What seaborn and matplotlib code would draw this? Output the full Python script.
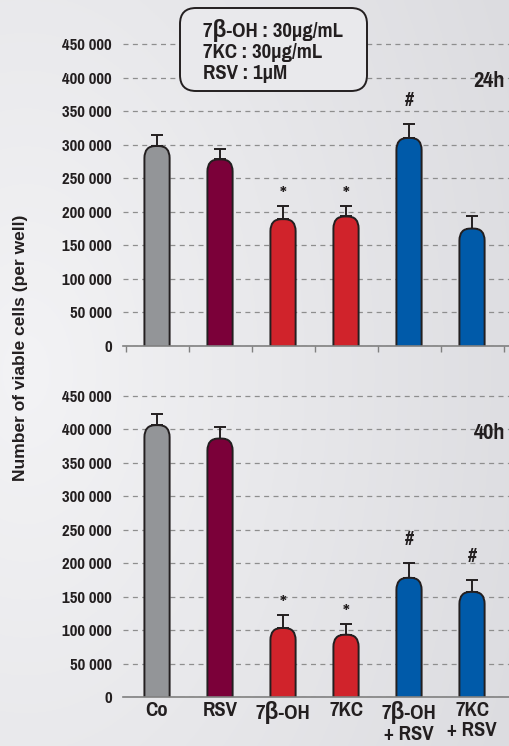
import numpy as np
import pandas as pd
import matplotlib
matplotlib.use("Agg")
import matplotlib.pyplot as plt
from matplotlib import font_manager
from matplotlib.patches import FancyBboxPatch
import seaborn as sns

# ---- data -------------------------------------------------------------
categories = ["Co", "RSV", "7β-OH", "7KC", "7β-OH\n+ RSV", "7KC\n+ RSV"]
mean_24h = [298000, 278000, 189000, 193000, 310000, 175000]
err_24h = [16000, 16000, 19000, 15000, 21000, 18000]
mean_40h = [406000, 386000, 103000, 93000, 178000, 157000]
err_40h = [16000, 16500, 19000, 15500, 22000, 18000]
marks_24h = ["", "", "*", "*", "#", ""]
marks_40h = ["", "", "*", "*", "#", "#"]
bar_colors = ["#939598", "#7b0039", "#d0232b", "#d0232b", "#005aa9", "#005aa9"]
y_ticks = list(range(0, 450001, 50000))
y_tick_labels = ["0" if v == 0 else f"{v // 1000} 000" for v in y_ticks]
panel_labels = ["24h", "40h"]
conditions = "7β-OH : 30µg/mL\n7KC : 30µg/mL\nRSV : 1µM"
y_title = "Number of viable cells (per well)"

# ---- style ------------------------------------------------------------
sns.set_theme(style="white")


def has_bold(name):
    for f in font_manager.fontManager.ttflist:
        if f.name == name:
            try:
                w = int(f.weight)
            except (TypeError, ValueError):
                w = 700 if "bold" in str(f.weight).lower() else 400
            if w >= 700:
                return True
    return False


# narrow bold face for most labels; size factor keeps the visible glyph size
family, k = "Liberation Sans", 0.85
for cand, fk in [("Liberation Sans Narrow", 1.0), ("Pragati Narrow", 1.25),
                 ("Roboto Condensed", 1.0), ("PT Sans Narrow", 1.05)]:
    if has_bold(cand):
        family, k = cand, fk
        break
plt.rcParams["font.family"] = [family, "Liberation Sans", "DejaVu Sans"]
plt.rcParams["font.weight"] = "bold"

W, H = 510, 746
fig = plt.figure(figsize=(W / 100, H / 100), dpi=100)

# soft grey background
bg = fig.add_axes([0, 0, 1, 1], zorder=-10)
gx, gy = np.meshgrid(np.linspace(0, 1, 300), np.linspace(0, 1, 400))
dist = np.sqrt(((gx - 0.05) * 1.0) ** 2 + ((gy - 0.5) * 0.9) ** 2)
dist = np.clip(dist / dist.max(), 0, 1)
c0 = np.array([0xf3, 0xf3, 0xf5]) / 255
c1 = np.array([0xdc, 0xdc, 0xe0]) / 255
img = c0[None, None, :] * (1 - dist[..., None]) + c1[None, None, :] * dist[..., None]
bg.imshow(img, extent=[0, 1, 0, 1], aspect="auto", origin="lower")
bg.axis("off")

edge = "#231f20"
ymax = 470000
left, width = 123 / W, 387 / W
ax_top = fig.add_axes([left, 1 - 346 / H, width, 315.4 / H])
ax_bot = fig.add_axes([left, 1 - 697 / H, width, 314.7 / H])

px_per_unit_x = 63.0


def draw_panel(ax, means, errs, marks, label, show_xlabels):
    df = pd.DataFrame({"cond": categories, "cells": means})
    sns.barplot(data=df, x="cond", y="cells", hue="cond", palette=bar_colors,
                width=0.4, legend=False, ax=ax, zorder=3)
    ax.set_xlim(-0.54, 5.603)
    ax.set_ylim(0, ymax)
    # rounded-top bars rebuilt from the seaborn rectangles
    ax_h_px = ax.get_position().height * H
    units_per_px_y = ymax / ax_h_px
    r_px_x, r_px_y = 11.0, 12.0
    r_x = r_px_x / px_per_unit_x
    aspect = (r_px_y * units_per_px_y) / r_x
    for p, col in zip(list(ax.patches), bar_colors):
        x0, w, h = p.get_x(), p.get_width(), p.get_height()
        p.set_visible(False)
        ext = r_x * aspect * 2
        rb = FancyBboxPatch((x0, -ext), w, h + ext,
                            boxstyle=f"round,pad=0,rounding_size={r_x}",
                            mutation_aspect=aspect, facecolor=col,
                            edgecolor=edge, linewidth=1.4, zorder=3,
                            clip_on=True)
        ax.add_patch(rb)
    xs = np.arange(len(categories))
    ax.errorbar(xs, means, yerr=[np.zeros(len(errs)), errs], fmt="none",
                ecolor=edge, elinewidth=1.4, capsize=4, capthick=1.4, zorder=2)
    for x, m, e, mk in zip(xs, means, errs, marks):
        if mk == "*":
            ax.text(x, m + e + 18000, mk, ha="center", va="center",
                    fontsize=13 * k, color=edge, zorder=4)
        elif mk == "#":
            ax.text(x, m + e + 35000, mk, ha="center", va="center",
                    fontsize=12.5 * k, color=edge, zorder=4)
    ax.set_yticks(y_ticks)
    ax.set_yticklabels(y_tick_labels, fontsize=10.5 * k, fontweight="bold",
                       color="#231f20")
    ax.tick_params(axis="y", length=0, pad=8)
    ax.grid(axis="y", color="#8e8e8e", linestyle=(0, (4, 3.5)), linewidth=0.9,
            zorder=0)
    ax.set_axisbelow(True)
    for s in ["top", "right", "left"]:
        ax.spines[s].set_visible(False)
    ax.spines["bottom"].set_color("#808080")
    ax.spines["bottom"].set_linewidth(1.2)
    ax.spines["bottom"].set_zorder(5)
    ax.set_facecolor("none")
    ax.set_xlabel("")
    ax.set_ylabel("")
    ax.set_xticks(xs)
    if show_xlabels:
        ax.set_xticklabels(categories, fontsize=13 * k, fontweight="bold",
                           color="#231f20", linespacing=1.05)
        ax.tick_params(axis="x", length=0, pad=3)
    else:
        ax.set_xticklabels([])
        ax.tick_params(axis="x", which="major", length=0)
        ax.set_xticks(np.arange(-0.5, len(categories)), minor=True)
        ax.tick_params(axis="x", which="minor", bottom=True, length=4,
                       width=1, color="#808080", direction="out")
    ax.text(0.987, 0.84, label, transform=ax.transAxes, ha="right",
            va="center", fontsize=14 * k, fontweight="bold", color="#231f20",
            zorder=6)


draw_panel(ax_top, mean_24h, err_24h, marks_24h, panel_labels[0], False)
draw_panel(ax_bot, mean_40h, err_40h, marks_40h, panel_labels[1], True)

fig.text(21 / W, 1 - 348 / H, y_title, rotation=90, ha="center", va="center",
         fontsize=12.5, fontweight="bold", color="#231f20",
         family=["Liberation Sans", "DejaVu Sans"])

# conditions box
bx0, by0, bx1, by1 = 180 / W, 1 - 91 / H, 367 / W, 1 - 8 / H
box = FancyBboxPatch((bx0, by0), bx1 - bx0, by1 - by0,
                     boxstyle=f"round,pad=0,rounding_size={16 / W}",
                     mutation_aspect=W / H, transform=fig.transFigure,
                     facecolor="#e9e9ec", edgecolor=edge, linewidth=1.4,
                     zorder=20)
fig.patches.append(box)
fig.text(203 / W, 1 - 51 / H, conditions, ha="left", va="center",
         fontsize=13 * k, fontweight="bold", color="#231f20",
         linespacing=1.1, zorder=21)

fig.savefig("out.png", dpi=100)
